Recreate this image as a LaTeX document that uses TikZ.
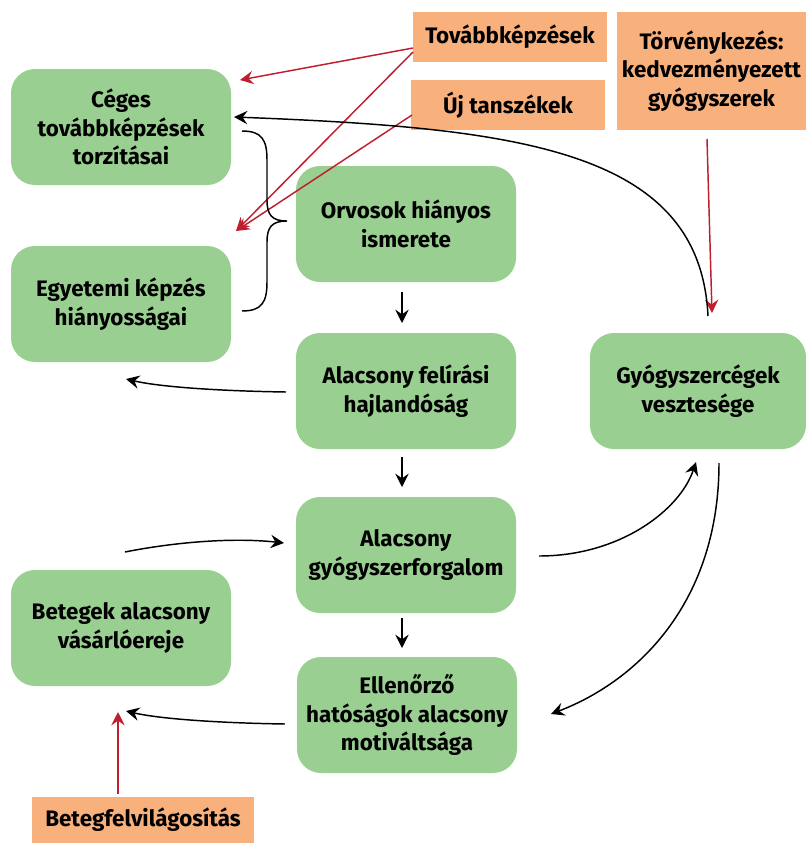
\documentclass[tikz,border=0pt]{standalone}
\usepackage{fontspec}
\setmainfont{Fira Sans}
\usetikzlibrary{arrows.meta}
\definecolor{grn}{HTML}{9ACF92}
\definecolor{org}{HTML}{F8B07D}
\definecolor{rdc}{HTML}{BE1E2D}
\begin{document}
\begin{tikzpicture}[x=0.75pt,y=-0.75pt,
  box/.style={fill=grn, rounded corners=18pt, minimum width=165pt, minimum height=87pt,
    align=center, inner sep=0pt, font=\bfseries\fontsize{16.8}{21.4}\selectfont},
  tag/.style={fill=org, align=center, inner sep=0pt, font=\bfseries\fontsize{16.8}{21.4}\selectfont},
  blk/.style={-{Stealth[length=10pt,width=10pt,inset=3.5pt]}, line width=1.1pt},
  redarr/.style={rdc, -{Stealth[length=10pt,width=10pt,inset=3.5pt]}, line width=1.1pt}]
\useasboundingbox (0,0) rectangle (806,843);

% green boxes
\node[box] (ceg) at (121,127) {Céges\\továbbképzések\\torzításai};
\node[box] (egy) at (121,304) {Egyetemi képzés\\hiányosságai};
\node[box] (orv) at (406,224) {Orvosok hiányos\\ismerete};
\node[box] (fel) at (406,391) {Alacsony felírási\\hajlandóság};
\node[box] (forg) at (406,555) {Alacsony\\gyógyszerforgalom};
\node[box] (ell) at (407,715) {Ellenőrző\\hatóságok alacsony\\motiváltsága};
\node[box] (bet) at (121,628) {Betegek alacsony\\vásárlóereje};
\node[box, minimum width=162pt] (gyc) at (698,391) {Gyógyszercégek\\vesztesége};

% orange boxes
\node[tag, minimum width=145.5pt, minimum height=37.5pt] (tov) at (510,37) {Továbbképzések};
\node[tag, minimum width=145.5pt, minimum height=37.5pt] (uj) at (508,105) {Új tanszékek};
\node[tag, minimum width=141.75pt, minimum height=88.5pt] (torv) at (711.5,71) {Törvénykezés:\\kedvezményezett\\gyógyszerek};
\node[tag, minimum width=166.5pt, minimum height=34.5pt] (bfv) at (143,820) {Betegfelvilágosítás};

% free end points
\coordinate (t1a) at (413,48);  \coordinate (t1b) at (240,80);
\coordinate (t2a) at (413,52);  \coordinate (t2b) at (236,231);
\coordinate (u1a) at (412,115);
\coordinate (tva) at (707,139); \coordinate (tvb) at (712,313);
\coordinate (bfa) at (118,794); \coordinate (bfb) at (118,712);
\coordinate (gca) at (708,316); \coordinate (cgb) at (234,117);
\coordinate (fla) at (286,392); \coordinate (flb) at (126,379);
\coordinate (ela) at (285,724); \coordinate (elb) at (126,711);
\coordinate (bta) at (125,552); \coordinate (ftb) at (284,543);
\coordinate (fra) at (539,556); \coordinate (gcb) at (696,462);
\coordinate (gcc) at (719,463); \coordinate (elc) at (551,714);
\coordinate (o1) at (402,292); \coordinate (f1) at (402,323);
\coordinate (o2) at (402,457); \coordinate (f2) at (402,487);
\coordinate (o3) at (402,618); \coordinate (f3) at (402,648);

% red arrows
\draw[redarr] (t1a) -- (t1b);
\draw[redarr] (t2a) -- (t2b);
\draw[redarr] (u1a) -- (t2b);
\draw[redarr] (tva) -- (tvb);
\draw[redarr] (bfa) -- (bfb);

% black arrows
\draw[blk] (gca) .. controls (700,150) and (520,128) .. (cgb);
\draw[blk] (fla) .. controls (220,391) and (160,387) .. (flb);
\draw[blk] (ela) .. controls (220,723) and (160,719) .. (elb);
\draw[blk] (bta) .. controls (170,543) and (230,537) .. (ftb);
\draw[blk] (fra) .. controls (620,556) and (680,510) .. (gcb);
\draw[blk] (gcc) .. controls (719,600) and (640,680) .. (elc);
\draw[blk] (o1) -- (f1);
\draw[blk] (o2) -- (f2);
\draw[blk] (o3) -- (f3);

% brace
\draw[line width=1.1pt] (242,131) .. controls (262,131) and (267,140) .. (267,160) -- (267,200)
  .. controls (267,215) and (272,221) .. (287,221)
  .. controls (272,221) and (267,227) .. (267,242) -- (267,282)
  .. controls (267,302) and (262,311) .. (242,311);
\end{tikzpicture}
\end{document}
